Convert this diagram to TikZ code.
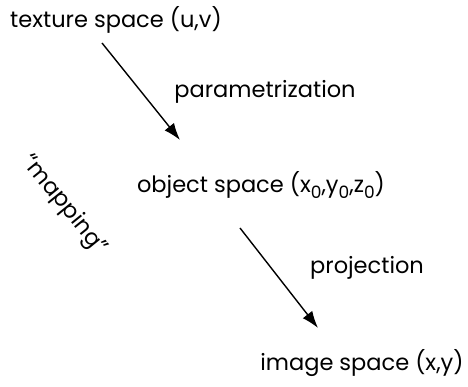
\documentclass[tikz,border=0pt]{standalone}
\usepackage{fontspec}
\setmainfont{Poppins}
\usetikzlibrary{arrows.meta, positioning, calc}
\newcommand{\zsub}{\raisebox{-6pt}{\fontsize{17}{17}\selectfont 0}}

\begin{document}
\begin{tikzpicture}[
  x=1pt, y=1pt,
  font=\fontsize{22.5}{27}\selectfont,
  lbl/.style={inner sep=0pt, anchor=center},
  arr/.style={-{Latex[length=17pt, width=12pt]}, line width=1.4pt}]
  \useasboundingbox (0,0) rectangle (468,387);
  \node[lbl] (tex) at (116,367) {texture space (u,v)};
  \node[lbl] (par) at (265,295) {parametrization};
  \node[lbl] (obj) at (261,202) {object space (x\zsub,y\zsub,z\zsub)};
  \node[lbl, rotate=-51] (map) at (64,182) {“mapping”};
  \node[lbl] (proj) at (367,119) {projection};
  \node[lbl] (img) at (362,24) {image space (x,y)};
  \coordinate (a1s) at (102,344);
  \coordinate (a1e) at (180,247);
  \coordinate (a2s) at (240,159);
  \coordinate (a2e) at (318,59);
  \draw[arr] (a1s) -- (a1e);
  \draw[arr] (a2s) -- (a2e);
\end{tikzpicture}
\end{document}
